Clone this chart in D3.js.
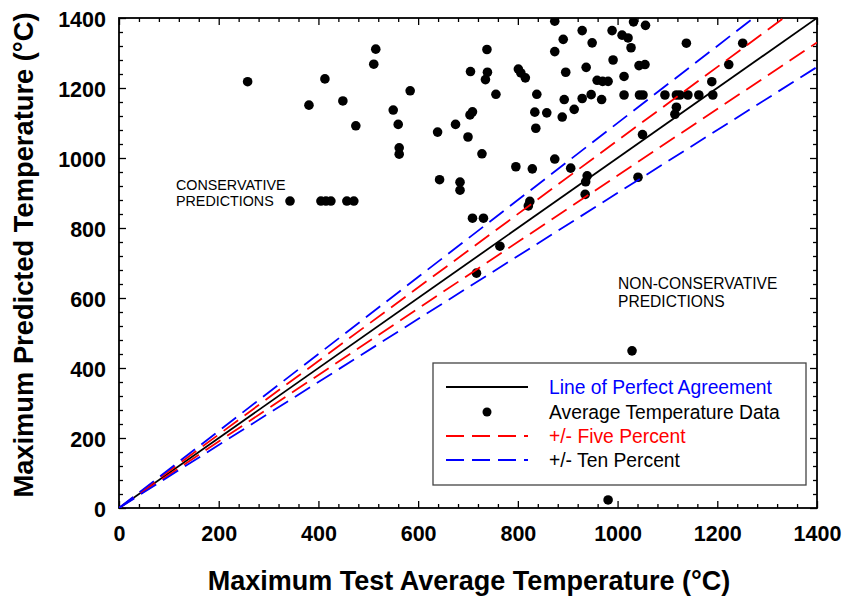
<!DOCTYPE html>
<html><head><meta charset="utf-8">
<script src="https://cdn.jsdelivr.net/npm/d3@7"></script>
<style>
body{margin:0;background:#fff;}
svg{display:block;font-family:"Liberation Sans",Arial,Helvetica,sans-serif;}
</style>
</head><body>
<svg id="chart" width="847" height="599"></svg>
<script>
// ---- Data ----
const testTemp = [258,381,413,449,475,515,511,584,550,560,562,562,
  343,405,415,425,457,471,
  874,929,989,891,949,874,738,991,937,705,739,735,801,806,815,896,959,970,981,
  756,838,893,929,947,968,913,709,704,834,858,889,675,639,700,836,728,874,796,829,906,
  643,684,684,939,936,935,824,821,1041,709,731,764,717,
  1032,1056,1009,1021,1027,1138,1251,1043,1055,1223,1013,1189,
  1013,1044,1051,1095,1118,1125,1141,1163,1191,1118,1115,1050,1029,981];
const predTemp = [1218,1151,1226,1163,1092,1311,1268,1192,1137,1096,1029,1011,
  877,877,877,877,877,877,
  1391,1364,1364,1339,1329,1304,1310,1280,1259,1247,1245,1224,1254,1243,1229,1245,1222,1219,1219,
  1182,1182,1167,1170,1181,1167,1139,1132,1123,1131,1129,1117,1096,1074,1060,1085,1012,997,975,969,971,
  938,931,908,949,932,896,876,863,945,828,828,748,671,
  1389,1379,1351,1343,1315,1328,1328,1264,1267,1267,1233,1218,
  1180,1180,1180,1180,1180,1180,1180,1180,1180,1145,1125,1067,449,23];
const majorTicks = [0,200,400,600,800,1000,1200,1400];
const minorStep = 40;
const bandFactors = [0.95, 1.05, 0.9, 1.1];
const bandColors = {0.9:"#0000ff",0.95:"#ff0000",1.05:"#ff0000",1.1:"#0000ff"};
const legendLabels = ["Line of Perfect Agreement","Average Temperature Data","+/- Five Percent","+/- Ten Percent"];
const legendTextColors = ["#0000ff","#000","#ff0000","#000"];

// ---- Layout ----
const X0=119, X1=817, Y0=508, Y1=18;
const svg = d3.select("#chart");
const x = d3.scaleLinear().domain([0,1400]).range([X0,X1]);
const y = d3.scaleLinear().domain([0,1400]).range([Y0,Y1]);
const minorTicks = d3.range(0,1401,minorStep).filter(v=>v%200!==0);

svg.append("defs").append("clipPath").attr("id","plotclip")
  .append("rect").attr("x",X0).attr("y",Y1).attr("width",X1-X0).attr("height",Y0-Y1);

function styleAxis(g){
  g.select(".domain").remove();
  g.selectAll(".tick line").attr("stroke","#000").attr("stroke-width",1.3);
}
const tickFont = 21.5;
// bottom
svg.append("g").attr("transform",`translate(0,${Y0})`)
  .call(d3.axisBottom(x).tickValues(majorTicks).tickSize(-7).tickPadding(18).tickFormat(d3.format("d")))
  .call(styleAxis)
  .call(g=>g.selectAll("text").attr("font-size",tickFont).attr("font-weight","bold").attr("fill","#000")
     .attr("font-family","'Liberation Sans',Arial,sans-serif"));
svg.append("g").attr("transform",`translate(0,${Y0})`)
  .call(d3.axisBottom(x).tickValues(minorTicks).tickSize(-4).tickFormat(""))
  .call(styleAxis);
// top
svg.append("g").attr("transform",`translate(0,${Y1})`)
  .call(d3.axisTop(x).tickValues(majorTicks).tickSize(-7).tickFormat("")).call(styleAxis);
svg.append("g").attr("transform",`translate(0,${Y1})`)
  .call(d3.axisTop(x).tickValues(minorTicks).tickSize(-4).tickFormat("")).call(styleAxis);
// left
svg.append("g").attr("transform",`translate(${X0},0)`)
  .call(d3.axisLeft(y).tickValues(majorTicks).tickSize(-7).tickPadding(13).tickFormat(d3.format("d")))
  .call(styleAxis)
  .call(g=>g.selectAll("text").attr("font-size",tickFont).attr("font-weight","bold").attr("fill","#000")
     .attr("dy","0.4em").attr("font-family","'Liberation Sans',Arial,sans-serif"));
svg.append("g").attr("transform",`translate(${X0},0)`)
  .call(d3.axisLeft(y).tickValues(minorTicks).tickSize(-4).tickFormat("")).call(styleAxis);
// right
svg.append("g").attr("transform",`translate(${X1},0)`)
  .call(d3.axisRight(y).tickValues(majorTicks).tickSize(-7).tickFormat("")).call(styleAxis);
svg.append("g").attr("transform",`translate(${X1},0)`)
  .call(d3.axisRight(y).tickValues(minorTicks).tickSize(-4).tickFormat("")).call(styleAxis);

// frame
svg.append("rect").attr("x",X0).attr("y",Y1).attr("width",X1-X0).attr("height",Y0-Y1)
  .attr("fill","none").attr("stroke","#000").attr("stroke-width",1.8);

// data points
const pts = testTemp.map((t,i)=>({t, p:predTemp[i]}));
svg.append("g").attr("clip-path","url(#plotclip)")
  .selectAll("circle").data(pts).join("circle")
  .attr("cx",d=>x(d.t)).attr("cy",d=>y(d.p)).attr("r",4.8).attr("fill","#000");

// reference lines
const line = d3.line().x(d=>x(d[0])).y(d=>y(d[1]));
const lg = svg.append("g").attr("clip-path","url(#plotclip)");
lg.append("path").attr("d",line([[0,0],[1400,1400]])).attr("stroke","#000").attr("stroke-width",1.8).attr("fill","none");
bandFactors.forEach(f=>{
  lg.append("path").attr("d",line([[0,0],[1400,1400*f]]))
    .attr("stroke",bandColors[f]).attr("stroke-width",1.8).attr("fill","none")
    .attr("stroke-dasharray","18,8");
});

// annotations
svg.append("text").attr("x",176).attr("y",190).attr("font-size",14.3).attr("fill","#000").text("CONSERVATIVE");
svg.append("text").attr("x",176).attr("y",206).attr("font-size",14.3).attr("fill","#000").text("PREDICTIONS");
svg.append("text").attr("x",618).attr("y",289).attr("font-size",15.6).attr("fill","#000").text("NON-CONSERVATIVE");
svg.append("text").attr("x",618).attr("y",307).attr("font-size",15.6).attr("fill","#000").text("PREDICTIONS");

// legend
const leg = svg.append("g");
leg.append("rect").attr("x",433).attr("y",363).attr("width",373).attr("height",122)
  .attr("fill","#fff").attr("stroke","#444").attr("stroke-width",1.3);
const rowY = [387,412,436,460];
leg.append("line").attr("x1",446).attr("x2",528).attr("y1",rowY[0]).attr("y2",rowY[0]).attr("stroke","#000").attr("stroke-width",1.8);
leg.append("circle").attr("cx",487).attr("cy",rowY[1]).attr("r",4.5).attr("fill","#000");
leg.append("line").attr("x1",446).attr("x2",528).attr("y1",rowY[2]).attr("y2",rowY[2]).attr("stroke","#ff0000").attr("stroke-width",1.8).attr("stroke-dasharray","18,8");
leg.append("line").attr("x1",446).attr("x2",528).attr("y1",rowY[3]).attr("y2",rowY[3]).attr("stroke","#0000ff").attr("stroke-width",1.8).attr("stroke-dasharray","18,8");
legendLabels.forEach((s,i)=>{
  leg.append("text").attr("x",549).attr("y",rowY[i]+7).attr("font-size",19.3)
    .attr("fill",legendTextColors[i]).text(s);
});

// axis titles
svg.append("text").attr("x",(X0+X1)/2+1).attr("y",590).attr("text-anchor","middle")
  .attr("font-size",27).attr("font-weight","bold").text("Maximum Test Average Temperature (°C)");
svg.append("text").attr("transform",`translate(33,255) rotate(-90)`).attr("text-anchor","middle")
  .attr("font-size",27.3).attr("font-weight","bold").text("Maximum Predicted Temperature (°C)");
</script>
</body></html>
